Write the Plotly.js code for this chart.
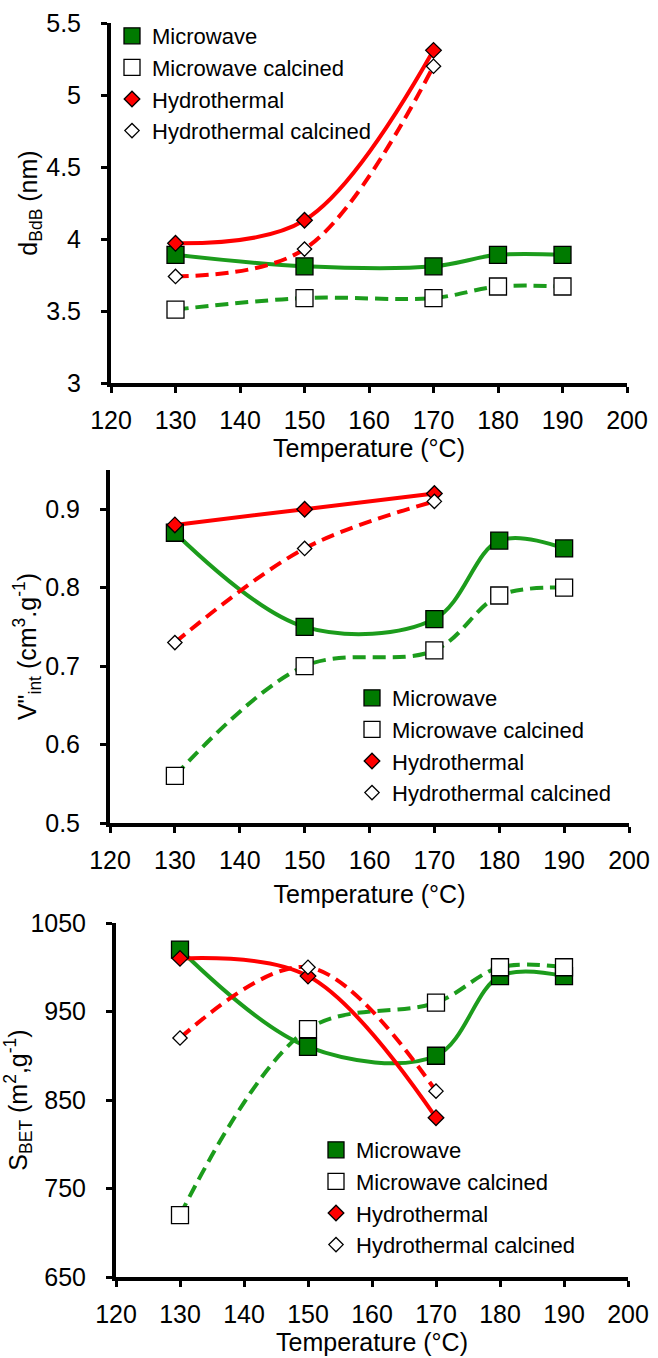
<!DOCTYPE html>
<html>
<head>
<meta charset="utf-8">
<script src="https://cdn.plot.ly/plotly-3.0.1.min.js"></script>
<style>html,body{margin:0;padding:0;background:#fff;}#chart{width:658px;height:1358px;}</style>
</head>
<body>
<div id="chart"></div>
<script>
// ---- data ----
const tempsMW = [130, 150, 170, 180, 190];
const tempsHT = [130, 150, 170];
const seriesNames = ['Microwave', 'Microwave calcined', 'Hydrothermal', 'Hydrothermal calcined'];

// panel 1: d_BdB (nm)
const dMicrowave = [3.89, 3.81, 3.81, 3.89, 3.89];
const dMicrowaveCalc = [3.51, 3.59, 3.59, 3.67, 3.67];
const dHydro = [3.97, 4.13, 5.31];
const dHydroCalc = [3.74, 3.93, 5.20];

// panel 2: V''int (cm3/g)
const vMicrowave = [0.87, 0.75, 0.76, 0.86, 0.85];
const vMicrowaveCalc = [0.56, 0.70, 0.72, 0.79, 0.80];
const vHydro = [0.88, 0.90, 0.92];
const vHydroCalc = [0.73, 0.85, 0.91];

// panel 3: S_BET (m2/g)
const sMicrowave = [1020, 910, 900, 990, 990];
const sMicrowaveCalc = [720, 930, 960, 1000, 1000];
const sHydro = [1010, 990, 830];
const sHydroCalc = [920, 1000, 860];

const xTickVals = [120, 130, 140, 150, 160, 170, 180, 190, 200];
const yTitles = ['d<sub>BdB</sub> (nm)', 'V"<sub>int</sub> (cm<sup>3</sup>.g<sup>-1</sup>)', 'S<sub>BET</sub> (m<sup>2</sup>,g<sup>-1</sup>)'];
const xTitle = 'Temperature (°C)';

// ---- styling ----
const GREEN_LINE = '#1c9c1c';
const GREEN_FILL = '#007a00';
const RED = '#ff0000';
const FONT = 'Liberation Sans, Arial, sans-serif';
const W = 658, H = 1358;

const panels = [
  {sets: [dMicrowave, dMicrowaveCalc, dHydro, dHydroCalc], legend: 'legend'},
  {sets: [vMicrowave, vMicrowaveCalc, vHydro, vHydroCalc], legend: 'legend2'},
  {sets: [sMicrowave, sMicrowaveCalc, sHydro, sHydroCalc], legend: 'legend3'}
];

const lineStyles = [
  {color: GREEN_LINE, width: 4, dash: 'solid'},
  {color: GREEN_LINE, width: 4, dash: '13px,7px'},
  {color: RED, width: 4, dash: 'solid'},
  {color: RED, width: 4, dash: '13px,7px'}
];
const markerStyles = [
  {symbol: 'square', size: 17, color: GREEN_FILL, line: {color: '#000', width: 1.3}},
  {symbol: 'square', size: 17, color: '#ffffff', line: {color: '#000', width: 1.3}},
  {symbol: 'diamond', size: 12, color: RED, line: {color: '#000', width: 1.3}},
  {symbol: 'diamond', size: 11, color: '#ffffff', line: {color: '#000', width: 1.3}}
];

const traces = [];
panels.forEach((p, i) => {
  const xa = i === 0 ? 'x' : 'x' + (i + 1);
  const ya = i === 0 ? 'y' : 'y' + (i + 1);
  p.sets.forEach((vals, k) => {
    traces.push({
      x: k < 2 ? tempsMW : tempsHT, y: vals, xaxis: xa, yaxis: ya,
      mode: 'lines', line: Object.assign({shape: 'spline', smoothing: 1}, lineStyles[k]),
      showlegend: false, hoverinfo: 'skip'
    });
  });
  p.sets.forEach((vals, k) => {
    traces.push({
      x: k < 2 ? tempsMW : tempsHT, y: vals, xaxis: xa, yaxis: ya,
      mode: 'markers', name: seriesNames[k], marker: markerStyles[k],
      legend: p.legend, showlegend: true
    });
  });
});

// pixel geometry -> paper domains
function xd(l, r) { return [l / W, r / W]; }
function yd(top, bot) { return [1 - bot / H, 1 - top / H]; }

function xAxis(dom, anchor, standoff) {
  return {
    domain: dom, anchor: anchor, range: [120, 200], tickvals: xTickVals,
    showline: true, linewidth: 4, linecolor: '#000', mirror: false,
    ticks: 'outside', ticklen: 6, tickwidth: 3, tickcolor: '#000',
    showgrid: false, zeroline: false, ticklabelstandoff: 6,
    tickfont: {family: FONT, size: 25, color: '#000'},
    title: {text: xTitle, font: {family: FONT, size: 25, color: '#000'}, standoff: standoff}
  };
}
function yAxis(dom, anchor, range, tick0, dtick, title) {
  return {
    domain: dom, anchor: anchor, range: range, tick0: tick0, dtick: dtick,
    showline: true, linewidth: 4, linecolor: '#000', mirror: false,
    ticks: 'outside', ticklen: 6, tickwidth: 3, tickcolor: '#000',
    showgrid: false, zeroline: false, ticklabelstandoff: 15,
    tickfont: {family: FONT, size: 25, color: '#000'},
    title: {text: title, font: {family: FONT, size: 25, color: '#000'}, standoff: 2}
  };
}

const legendBase = {
  bgcolor: 'rgba(0,0,0,0)', borderwidth: 0,
  font: {family: FONT, size: 22, color: '#000'},
  xanchor: 'left', itemclick: false, itemdoubleclick: false
};

const layout = {
  width: W, height: H,
  margin: {l: 0, r: 0, t: 0, b: 0},
  paper_bgcolor: '#fff', plot_bgcolor: 'rgba(0,0,0,0)',
  font: {family: FONT, color: '#000'},
  xaxis: xAxis(xd(111, 627), 'y', 0),
  yaxis: yAxis(yd(23, 383), 'x', [3, 5.5], 3, 0.5, yTitles[0]),
  xaxis2: xAxis(xd(110, 629), 'y2', 13),
  yaxis2: yAxis(yd(470, 823), 'x2', [0.5, 0.95], 0.5, 0.1, yTitles[1]),
  xaxis3: xAxis(xd(116, 628), 'y3', 3),
  yaxis3: yAxis(yd(923, 1277), 'x3', [650, 1050], 650, 100, yTitles[2]),
  legend: Object.assign({}, legendBase, {x: 112 / W, y: 1 - 15 / H, yanchor: 'top'}),
  legend2: Object.assign({}, legendBase, {x: 352 / W, y: 1 - 814 / H, yanchor: 'bottom'}),
  legend3: Object.assign({}, legendBase, {x: 316 / W, y: 1 - 1266 / H, yanchor: 'bottom'})
};

Plotly.newPlot('chart', traces, layout, {staticPlot: true, displayModeBar: false});
</script>
</body>
</html>
